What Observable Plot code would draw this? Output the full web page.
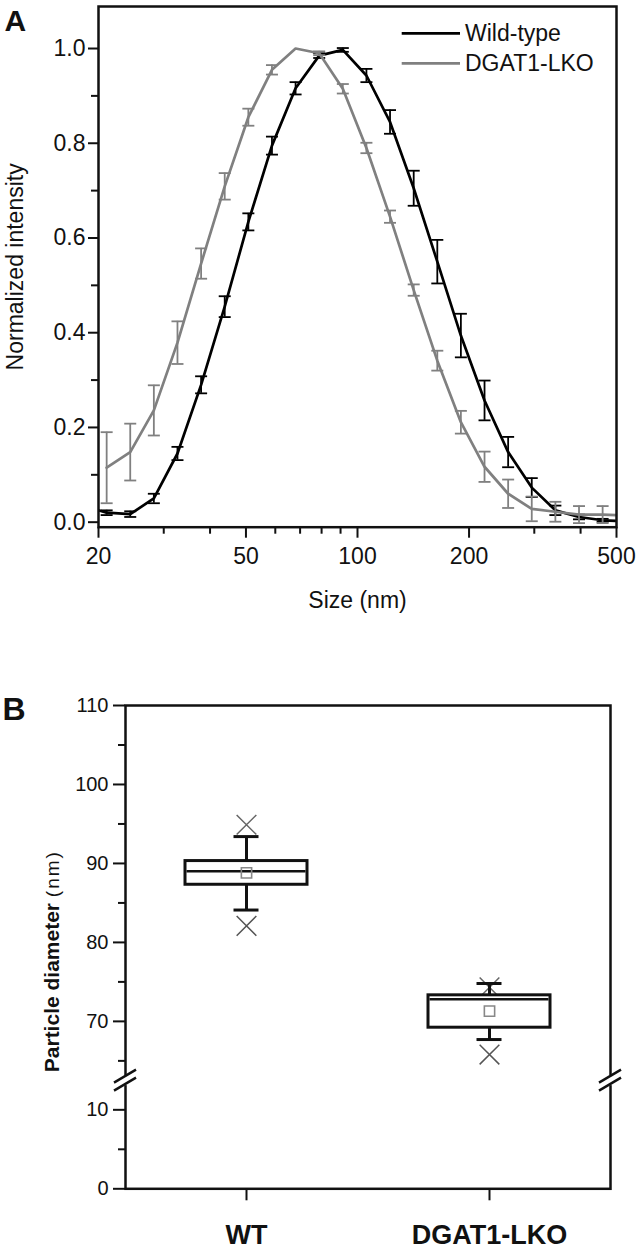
<!DOCTYPE html>
<html><head><meta charset="utf-8">
<script src="https://cdn.jsdelivr.net/npm/d3@7"></script>
<script src="https://cdn.jsdelivr.net/npm/@observablehq/plot@0.6"></script>
<style>
body{margin:0;background:#fff;}
#wrap{position:relative;width:641px;height:1251px;overflow:hidden;background:#fff;}
#a{position:absolute;left:0;top:0;}
#b{position:absolute;left:0;top:640px;}
</style></head><body><div id="wrap"><div id="a"></div><div id="b"></div></div>
<script>
// ---------- Panel A data ----------
const sizeNm = [18.17,21.04,24.36,28.21,32.67,37.84,43.82,50.75,58.77,68.06,78.82,91.28,105.7,122.4,141.8,164.2,190.1,220.2,255.0,295.3,342.0,396.1,458.7,531.2];
const wtMean = [0.035,0.02,0.017,0.05,0.145,0.29,0.455,0.634,0.795,0.916,0.985,0.997,0.943,0.845,0.705,0.55,0.394,0.257,0.148,0.073,0.025,0.011,0.004,0.002];
const wtErr  = [null,0.005,0.006,0.01,0.014,0.018,0.022,0.018,0.019,0.013,0.005,0.004,0.014,0.025,0.037,0.046,0.046,0.042,0.032,0.02,0.01,0.005,0.003,null];
const koMean = [null,0.115,0.148,0.236,0.379,0.546,0.709,0.855,0.955,1.0,0.99,0.915,0.79,0.645,0.49,0.341,0.211,0.117,0.06,0.028,0.022,0.016,0.016,0.014];
const koErr  = [null,0.075,0.06,0.053,0.045,0.032,0.028,0.018,0.01,0,0.004,0.01,0.011,0.013,0.012,0.021,0.024,0.032,0.03,0.026,0.021,0.018,0.018,null];
const seriesNames = ["Wild-type","DGAT1-LKO"];
const seriesColors = ["#000000","#808080"];
const yTicksA = [0,0.2,0.4,0.6,0.8,1.0];
const yMinorA = [0.1,0.3,0.5,0.7,0.9];
const xTicksA = [20,50,100,200,500];
const xMinorA = [30,40,60,70,80,90,300,400];

// ---------- Panel B data ----------
const groups = ["WT","DGAT1-LKO"];
const q1 = [87.3, 69.2];
const median = [89.0, 72.8];
const q3 = [90.3, 73.3];
const whiskerLow = [84.1, 67.7];
const whiskerHigh = [93.4, 74.8];
const meanVal = [88.8, 71.3];
const extremeLow = [82.1, 65.8];
const extremeHigh = [94.9, 74.3];
const yTicksB = [0,10,70,80,90,100,110];
const yMinorB = [5,65,75,85,95,105];
const breakLow = 13.7, breakHigh = 62.5;

const FONT = "'Liberation Sans', Arial, Helvetica, sans-serif";

function rows(mean, err){
  return sizeNm.map((s,i)=>({s, m:mean[i], e:err[i]})).filter(d=>d.m!=null);
}
const capSymbol = {draw(ctx, size){ const h = Math.sqrt(size/Math.PI); ctx.moveTo(-h,0); ctx.lineTo(h,0);} };

function seriesMarks(data, color){
  const eb = data.filter(d=>d.e!=null && d.e>0);
  return [
    Plot.line(data, {x:"s", y:"m", stroke:color, strokeWidth:2.7, clip:true}),
    Plot.ruleX(eb, {x:"s", y1:d=>d.m-d.e, y2:d=>d.m+d.e, stroke:color, strokeWidth:1.8}),
    Plot.dot(eb, {x:"s", y:d=>d.m+d.e, symbol:capSymbol, r:6, stroke:color, strokeWidth:1.8}),
    Plot.dot(eb, {x:"s", y:d=>d.m-d.e, symbol:capSymbol, r:6, stroke:color, strokeWidth:1.8})
  ];
}

const plotA = Plot.plot({
  width:641, height:640,
  marginLeft:98, marginRight:25, marginTop:6, marginBottom:113.3,
  style:{fontFamily:FONT, fontSize:"23px", color:"#111", background:"white"},
  x:{type:"log", domain:[20,500]},
  y:{domain:[-0.0106,1.0887]},
  marks:[
    ...seriesMarks(rows(wtMean, wtErr), seriesColors[0]),
    ...seriesMarks(rows(koMean, koErr), seriesColors[1]),
    Plot.frame({strokeWidth:2.5, stroke:"#111"}),
    Plot.axisY(yTicksA, {tickSize:10, tickPadding:3, strokeWidth:2, tickFormat:d3.format(".1f"), fontSize:23, label:null}),
    Plot.axisY(yMinorA, {tickSize:7, strokeWidth:2, tickFormat:()=>"", label:null}),
    Plot.axisX(xTicksA, {tickSize:11, strokeWidth:2, tickFormat:()=>"", label:null}),
    Plot.axisX(xMinorA, {tickSize:7, strokeWidth:2, tickFormat:()=>"", label:null}),
    Plot.text(xTicksA, {x:d=>d, text:d=>String(d), frameAnchor:"bottom", lineAnchor:"middle", textAnchor:"middle", dy:29, fontSize:23}),
    Plot.text(["Size (nm)"], {text:d=>d, frameAnchor:"bottom", lineAnchor:"middle", textAnchor:"middle", dy:73, fontSize:23}),
    Plot.text(["Normalized intensity"], {text:d=>d, frameAnchor:"left", textAnchor:"middle", lineAnchor:"middle", rotate:-90, dx:-83, fontSize:23}),
    Plot.text(["A"], {text:d=>d, frameAnchor:"top-left", textAnchor:"start", lineAnchor:"top", dx:-94, dy:3, fontSize:30, fontWeight:"bold"})
  ]
});
document.getElementById("a").appendChild(plotA);

// legend inside panel A (positions from the chart's own scales)
{
  const xr = plotA.scale("x").range, yr = plotA.scale("y").range;
  const right = Math.max(...xr), top = Math.min(...yr);
  const g = d3.select(plotA).append("g").attr("font-family", FONT).attr("font-size", 23).attr("text-anchor","start");
  seriesNames.forEach((name,i)=>{
    const y = top + 27.3 + i*30;
    g.append("line").attr("x1", right-214.3).attr("x2", right-156).attr("y1", y).attr("y2", y)
      .attr("stroke", seriesColors[i]).attr("stroke-width", 2.7);
    g.append("text").attr("x", right-151).attr("y", y).attr("dy","0.35em").attr("fill","#111").text(name);
  });
}

// ---------- Panel B ----------
const shift = breakHigh - breakLow;
const brk = v => v > breakLow ? v - shift : v;
const unbrk = v => v > breakLow + 0.001 ? v + shift : v;
const boxRows = groups.map((g,i)=>({g, q1:q1[i], med:median[i], q3:q3[i], wl:whiskerLow[i], wh:whiskerHigh[i], mean:meanVal[i], lo:extremeLow[i], hi:extremeHigh[i]}));

const plotB = Plot.plot({
  width:641, height:611,
  marginLeft:125, marginRight:31, marginTop:65, marginBottom:62.7,
  style:{fontFamily:FONT, fontSize:"20px", color:"#111", background:"white"},
  x:{domain:groups, paddingInner:0.5, paddingOuter:0.244},
  y:{domain:[0, brk(110)]},
  marks:[
    Plot.dot(boxRows, {x:"g", y:d=>brk(d.hi), symbol:"times", r:9, stroke:"#666", strokeWidth:1.5}),
    Plot.dot(boxRows, {x:"g", y:d=>brk(d.lo), symbol:"times", r:9, stroke:"#555", strokeWidth:1.5}),
    Plot.ruleX(boxRows, {x:"g", y1:d=>brk(d.wl), y2:d=>brk(d.wh), stroke:"#111", strokeWidth:3}),
    Plot.barY(boxRows, {x:"g", y1:d=>brk(d.q1), y2:d=>brk(d.q3), fill:"white", stroke:"#111", strokeWidth:3}),
    Plot.tickY(boxRows, {x:"g", y:d=>brk(d.med), stroke:"#111", strokeWidth:2.5, insetLeft:1.5, insetRight:1.5}),
    Plot.tickY(boxRows, {x:"g", y:d=>brk(d.wl), stroke:"#111", strokeWidth:3, insetLeft:48.5, insetRight:48.5}),
    Plot.tickY(boxRows, {x:"g", y:d=>brk(d.wh), stroke:"#111", strokeWidth:3, insetLeft:48.5, insetRight:48.5}),
    Plot.dot(boxRows, {x:"g", y:d=>brk(d.mean), symbol:"square", r:5.8, stroke:"#888", strokeWidth:1.6, fill:"none"}),
    Plot.frame({strokeWidth:2.5, stroke:"#111"}),
    Plot.axisY(yTicksB.map(brk), {tickSize:12, tickPadding:5, strokeWidth:2, tickFormat:d=>String(Math.round(unbrk(d))), fontSize:20, label:null}),
    Plot.axisY(yMinorB.map(brk), {tickSize:7, strokeWidth:2, tickFormat:()=>"", label:null}),
    Plot.axisX(groups, {tickSize:12, tickPadding:24, strokeWidth:2, fontSize:27, fontWeight:"bold", label:null}),
    Plot.text(["B"], {text:d=>d, frameAnchor:"top-left", textAnchor:"start", lineAnchor:"top", dx:-123, dy:-8, fontSize:32, fontWeight:"bold"})
  ]
});
document.getElementById("b").appendChild(plotB);

// axis break marks and y label for panel B (positions from the chart's scales)
{
  const xr = plotB.scale("x").range, yr = plotB.scale("y").range;
  const left = Math.min(...xr), right = Math.max(...xr);
  const yb = plotB.scale("y").apply(breakLow);
  const svg = d3.select(plotB);
  const g = svg.append("g");
  [left, right].forEach(x=>{
    g.append("rect").attr("x", x-4).attr("y", yb-5).attr("width", 8).attr("height", 10).attr("fill","white");
    [-4, 4].forEach(o=>{
      g.append("line").attr("x1", x-11).attr("y1", yb+o+6.5).attr("x2", x+11).attr("y2", yb+o-6.5)
        .attr("stroke","#111").attr("stroke-width",2.4);
    });
  });
  const yc = (Math.min(...yr)+Math.max(...yr))/2 + 14.5;
  const t = svg.append("text").attr("transform", `translate(${left-73},${yc}) rotate(-90)`)
    .attr("text-anchor","middle").attr("dy","0.35em").attr("font-family", FONT).attr("fill","#111");
  t.append("tspan").attr("font-weight","bold").attr("font-size",21).text("Particle diameter ");
  t.append("tspan").attr("font-size",19).attr("letter-spacing","2px").text("(nm)");
}
</script>
</body></html>
